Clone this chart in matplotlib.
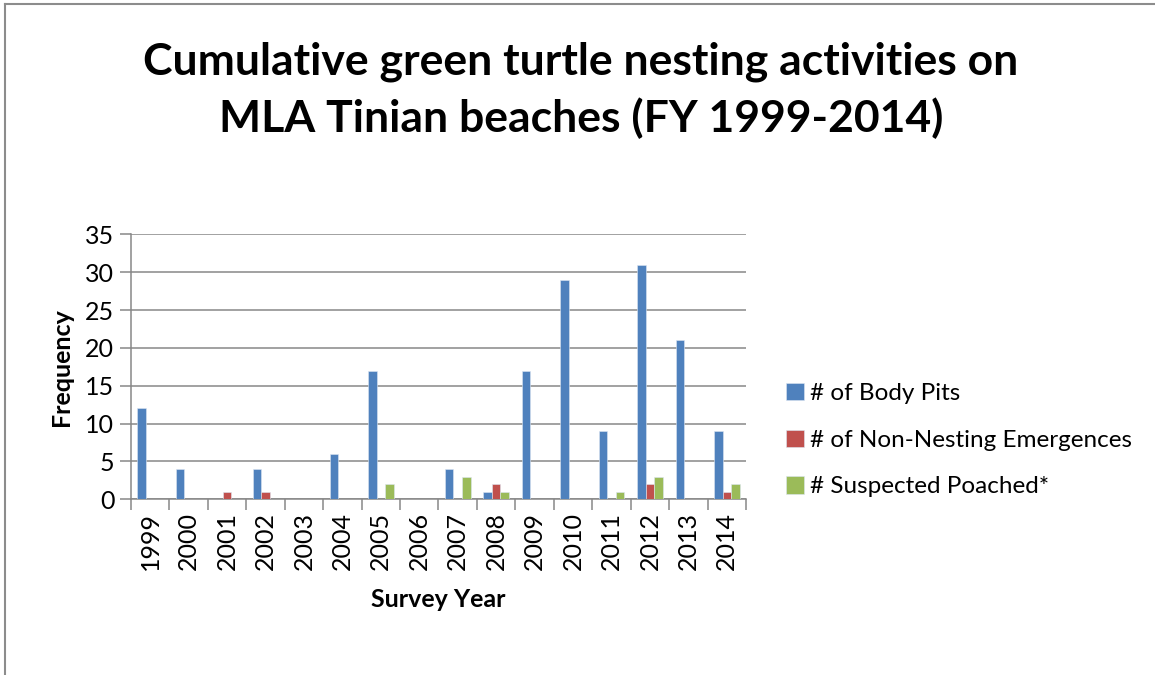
import numpy as np
import matplotlib
matplotlib.use('Agg')
import matplotlib.pyplot as plt
from matplotlib.lines import Line2D

plt.rcParams['font.family'] = ['Lato', 'DejaVu Sans']

# ── Data ───────────────────────────────────────────────
years = ['1999', '2000', '2001', '2002', '2003', '2004', '2005', '2006',
         '2007', '2008', '2009', '2010', '2011', '2012', '2013', '2014']
body_pits = [12, 4, 0, 4, 0, 6, 17, 0, 4, 1, 17, 29, 9, 31, 21, 9]
non_nesting = [0, 0, 1, 1, 0, 0, 0, 0, 0, 2, 0, 0, 0, 2, 0, 1]
poached = [0, 0, 0, 0, 0, 0, 2, 0, 3, 1, 0, 0, 1, 3, 0, 2]

series_names = ['# of Body Pits', '# of Non-Nesting Emergences',
                '# Suspected Poached*']
colors = ['#4F81BD', '#C0504D', '#9BBB59']
grid_col = '#878787'

fig = plt.figure(figsize=(11.55, 6.75), dpi=100)
ax = fig.add_axes([0.1134, 0.2603, 0.5325, 0.3926])

x = np.arange(len(years))
w = 1 / 4.5
for i, (vals, name, c) in enumerate(zip([body_pits, non_nesting, poached],
                                         series_names, colors)):
    ax.bar(x + (i - 1) * w, vals, width=w, color=c, label=name,
           edgecolor='#dce6f2', linewidth=0.4, zorder=3)

ax.set_xlim(-0.5, len(years) - 0.5)
ax.set_ylim(0, 35)
ax.set_yticks(range(0, 36, 5))
ax.yaxis.grid(True, color=grid_col, linewidth=1.1, zorder=0)

# category boundary ticks on x, labels at centres
ax.set_xticks(x)
ax.set_xticklabels(years, rotation=90, fontsize=18)
ax.set_xticks(np.arange(-0.5, len(years), 1), minor=True)
ax.tick_params(axis='x', which='major', length=0, pad=9)
ax.tick_params(axis='x', which='minor', length=8, color=grid_col, width=1.1)
ax.tick_params(axis='y', length=8, color=grid_col, width=1.1,
               labelsize=18, pad=4)

for s in ['top', 'right']:
    ax.spines[s].set_visible(False)
for s in ['left', 'bottom']:
    ax.spines[s].set_color(grid_col)
    ax.spines[s].set_linewidth(1.1)

ax.set_ylabel('Frequency', fontsize=18, fontweight='bold', labelpad=9)
ax.set_xlabel('Survey Year', fontsize=18, fontweight='bold', labelpad=13)

fig.text(0.503, 0.866, 'Cumulative green turtle nesting activities on\n'
         'MLA Tinian beaches (FY 1999-2014)',
         ha='center', va='center', fontsize=32, fontweight='bold',
         linespacing=1.45)

ax.legend(loc='center left', bbox_to_anchor=(1.03, 0.223), frameon=False,
          fontsize=17.5, handlelength=0.72, handleheight=0.72,
          handletextpad=0.25, labelspacing=1.05)

# outer chart border (top and left visible)
fig.add_artist(Line2D([0.0045, 0.0045], [0, 0.994], transform=fig.transFigure,
                      color='#8c8c8c', linewidth=1.5))
fig.add_artist(Line2D([0.0045, 1], [0.994, 0.994], transform=fig.transFigure,
                      color='#8c8c8c', linewidth=1.5))

plt.savefig('out.png', dpi=100)
print("saved")
